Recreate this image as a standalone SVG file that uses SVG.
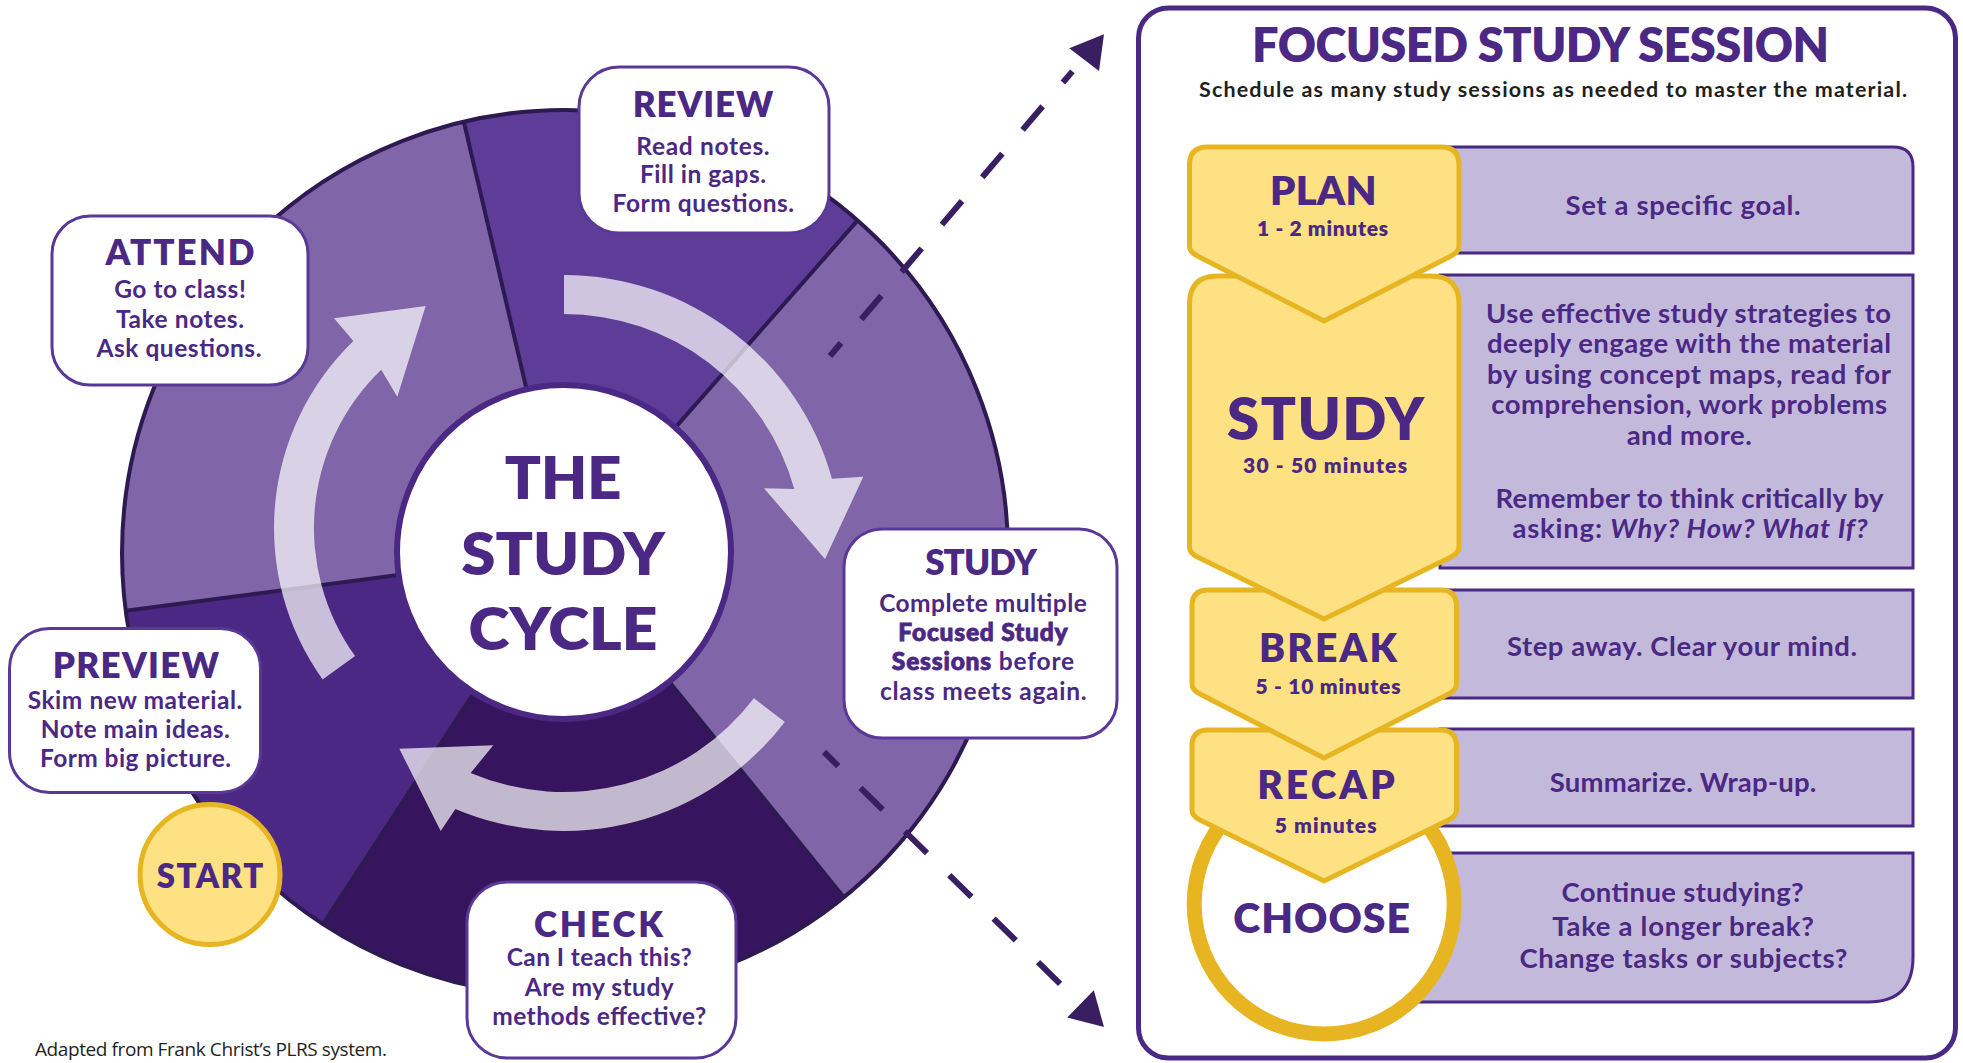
<svg xmlns="http://www.w3.org/2000/svg" width="1963" height="1063" viewBox="0 0 1963 1063">
<defs>
<style>
text{font-family:Lato,"Liberation Sans",sans-serif;text-anchor:middle;fill:#4B2884}
.h{font-weight:800;font-size:35px}
.b{font-weight:700;font-size:24.5px}
.bb{font-weight:900;stroke:#4B2884;stroke-width:0.9px}
.ctr{font-weight:800;font-size:59px}
.ch{font-weight:800}
.min{font-weight:800;font-size:21px}
.rb{font-weight:700;font-size:27.5px}
.box{fill:#fff;stroke:#5A3897;stroke-width:3}
.row{fill:#C3BADB;stroke:#4B2884;stroke-width:3}
.chev{fill:#FDE183;stroke:#E6B521;stroke-width:5;stroke-linejoin:round}
.div{stroke:#2E1A52;stroke-width:4}
.arr{fill:#fff;fill-opacity:0.7}
.dash{stroke:#3A1E62;stroke-width:6;fill:none;stroke-dasharray:31 31.2}
</style>
</defs>
<rect width="1963" height="1063" fill="#fff"/>

<g id="cycle-wheel">
<path d="M565,553 L125.8,610.8 A443,443 0 0 1 463.8,121.7 Z" fill="#8066A9"/>
<path d="M565,553 L463.8,121.7 A443,443 0 0 1 857.6,220.4 Z" fill="#5E3D98"/>
<path d="M565,553 L857.6,220.4 A443,443 0 0 1 843.8,897.3 Z" fill="#8066A9"/>
<path d="M565,553 L843.8,897.3 A443,443 0 0 1 323.1,924.1 Z" fill="#36155E"/>
<path d="M565,553 L323.1,924.1 A443,443 0 0 1 125.8,610.8 Z" fill="#4B2884"/>
<circle cx="565" cy="553" r="443" fill="none" stroke="#2E1A52" stroke-width="4"/>
<line class="div" x1="565" y1="553" x2="125.8" y2="610.8"/>
<line class="div" x1="565" y1="553" x2="463.8" y2="121.7"/>
<line class="div" x1="565" y1="553" x2="857.6" y2="220.4"/>
<line class="div" x1="565" y1="553" x2="843.8" y2="897.3"/>
<line class="div" x1="565" y1="553" x2="323.1" y2="924.1"/>
</g>

<g id="connectors">
<g id="cycle-arrows">
<path class="arr" d="M322.6,679.4 A260,260 0 0 1 353.4,341 L334,318.3 L425.7,306 L397.3,396.7 L381.2,369.7 A220,220 0 0 0 355.1,656.1 Z"/>
<path class="arr" d="M564,275 A278,278 0 0 1 831.9,478.7 L863.3,476.7 L825,559 L764,488.3 L794.3,489.1 A239,239 0 0 0 564,314 Z"/>
<path class="arr" d="M784.8,721.9 A278,278 0 0 1 455.4,808.9 L440.7,831 L399.3,748.7 L493.3,745.3 L470.6,773 A239,239 0 0 0 753.9,698.2 Z"/>
</g>
<line class="dash" x1="830" y1="356" x2="1072.4" y2="71.4" stroke-dashoffset="14"/>
<polygon points="1104,34.3 1069.3,48.3 1099,71" fill="#3A1E62"/>
<line class="dash" x1="824" y1="752" x2="1078" y2="1001.5" stroke-dashoffset="11"/>
<polygon points="1104,1027 1067.2,1017.5 1093.8,990.3" fill="#3A1E62"/>
</g>

<g id="center">
<circle cx="564" cy="552" r="167" fill="#fff" stroke="#4B2884" stroke-width="6"/>
<text class="ctr" x="563" y="499.3" textLength="116.7" lengthAdjust="spacingAndGlyphs">THE</text>
<text class="ctr" x="563" y="575" textLength="203.5" lengthAdjust="spacingAndGlyphs">STUDY</text>
<text class="ctr" x="563" y="649.5" textLength="189" lengthAdjust="spacingAndGlyphs">CYCLE</text>
</g>

<g id="attend">
<rect class="box" x="52" y="216" width="256" height="169" rx="38"/>
<text class="h" x="180" y="265" textLength="149">ATTEND</text>
<text class="b" x="180" y="298.3" textLength="131.7">Go to class!</text>
<text class="b" x="180" y="327.7" textLength="128">Take notes.</text>
<text class="b" x="179" y="356.7" textLength="165">Ask questions.</text>
</g>

<g id="review">
<rect class="box" x="579" y="67" width="250" height="166" rx="40"/>
<text class="h" x="703" y="117.3" textLength="140.6">REVIEW</text>
<text class="b" x="703" y="154.6" textLength="133.3">Read notes.</text>
<text class="b" x="703" y="183" textLength="126">Fill in gaps.</text>
<text class="b" x="703.4" y="212" textLength="181.6">Form questions.</text>
</g>

<g id="study">
<rect class="box" x="844" y="529" width="273" height="209" rx="38"/>
<text class="h" x="981" y="575" textLength="111.7">STUDY</text>
<text class="b" x="983" y="611.7" textLength="207.7">Complete multiple</text>
<text class="b bb" x="983" y="641" textLength="169.3">Focused Study</text>
<text class="b" x="983" y="670.3" textLength="182.3"><tspan class="bb">Sessions</tspan> before</text>
<text class="b" x="983.3" y="700" textLength="206.7">class meets again.</text>
</g>

<g id="check">
<rect class="box" x="467" y="882" width="269" height="176" rx="40"/>
<text class="h" x="598.5" y="936.5" textLength="129">CHECK</text>
<text class="b" x="599.2" y="966" textLength="185">Can I teach this?</text>
<text class="b" x="599.2" y="996" textLength="149">Are my study</text>
<text class="b" x="599.2" y="1025" textLength="214">methods effective?</text>
</g>

<g id="preview">
<rect class="box" x="9.5" y="628.5" width="251" height="164" rx="40"/>
<text class="h" x="135.8" y="678.3" textLength="166.3">PREVIEW</text>
<text class="b" x="135" y="709" textLength="214.7">Skim new material.</text>
<text class="b" x="135.3" y="738.3" textLength="189.3">Note main ideas.</text>
<text class="b" x="135.5" y="767.3" textLength="191">Form big picture.</text>
</g>

<g id="start">
<circle cx="210" cy="874.5" r="70" fill="#FDE183" stroke="#E6B521" stroke-width="5"/>
<text class="ch" x="210" y="888.3" font-size="33" textLength="106.7">START</text>
</g>

<text x="35" y="1056" style="text-anchor:start;font-family:'Open Sans','Liberation Sans',sans-serif;font-size:19px;fill:#231F20" textLength="352">Adapted from Frank Christ’s PLRS system.</text>

<g id="focused-study-session">
<rect x="1138.5" y="8" width="817" height="1050" rx="30" fill="#fff" stroke="#4B2884" stroke-width="5"/>
<text class="ch" x="1540.5" y="62.4" font-size="47" textLength="577">FOCUSED STUDY SESSION</text>
<text x="1553" y="97" style="font-weight:700;font-size:21.5px;fill:#231F20" textLength="708">Schedule as many study sessions as needed to master the material.</text>
</g>

<g id="row-plan">
<path class="row" d="M1440,147 H1893 Q1913,147 1913,167 V253 H1440 Z"/>
<text class="rb" x="1683" y="215" textLength="235">Set a specific goal.</text>
</g>
<g id="row-study">
<rect class="row" x="1440" y="275" width="473" height="293"/>
<text class="rb" x="1688.6" y="322.7" textLength="405">Use effective study strategies to</text>
<text class="rb" x="1689" y="353" textLength="404">deeply engage with the material</text>
<text class="rb" x="1689" y="383.7" textLength="404">by using concept maps, read for</text>
<text class="rb" x="1689.2" y="414" textLength="396">comprehension, work problems</text>
<text class="rb" x="1689.2" y="445.4" textLength="125">and more.</text>
<text class="rb" x="1689.5" y="507.8" textLength="388">Remember to think critically by</text>
<text class="rb" x="1690" y="538.3" textLength="355">asking: <tspan font-style="italic">Why? How? What If?</tspan></text>
</g>
<g id="row-break">
<rect class="row" x="1440" y="590" width="473" height="108"/>
<text class="rb" x="1682" y="656.3" textLength="350">Step away. Clear your mind.</text>
</g>
<g id="row-recap">
<rect class="row" x="1440" y="729" width="473" height="97"/>
<text class="rb" x="1683" y="791.9" textLength="266.7">Summarize. Wrap-up.</text>
</g>
<g id="row-choose">
<path class="row" d="M1410,853 H1913 V957 Q1913,1002 1868,1002 H1410 Z"/>
<text class="rb" x="1682.6" y="901.7" textLength="242.3">Continue studying?</text>
<text class="rb" x="1683.1" y="935.6" textLength="261.5">Take a longer break?</text>
<text class="rb" x="1683.4" y="968.1" textLength="327.8">Change tasks or subjects?</text>
</g>

<g id="step-choose">
<circle cx="1324.2" cy="904" r="130" fill="#fff" stroke="#E6B521" stroke-width="15"/>
<text class="ch" x="1321.7" y="932.7" font-size="41" textLength="176.7">CHOOSE</text>
</g>
<g id="step-recap">
<path class="chev" d="M1192,746 Q1192,730 1208,730 H1440.5 Q1456.5,730 1456.5,746 V810 Q1456.5,816 1448.5,820 L1324,881 L1200,820 Q1192,816 1192,810 Z"/>
<text class="ch" x="1326" y="799.3" font-size="39" textLength="137.7">RECAP</text>
<text class="min" x="1325.7" y="832.7" textLength="101.7">5 minutes</text>
</g>
<g id="step-break">
<path class="chev" d="M1192,606 Q1192,590 1208,590 H1440.5 Q1456.5,590 1456.5,606 V684 Q1456.5,690 1448.5,694 L1324,758 L1200,694 Q1192,690 1192,684 Z"/>
<text class="ch" x="1328" y="661.7" font-size="39" textLength="138">BREAK</text>
<text class="min" x="1328" y="694.3" textLength="145">5 - 10 minutes</text>
</g>
<g id="step-study">
<path class="chev" d="M1189.5,304 Q1189.5,276 1217.5,276 H1431 Q1459,276 1459,304 V547 Q1459,553 1451,557 L1324,619 L1197.5,557 Q1189.5,553 1189.5,547 Z"/>
<text class="ch" x="1325.6" y="440" font-size="58" textLength="197">STUDY</text>
<text class="min" x="1325" y="472.5" textLength="164">30 - 50 minutes</text>
</g>
<g id="step-plan">
<path class="chev" d="M1189.5,165 Q1189.5,147 1207.5,147 H1441 Q1459,147 1459,165 V246 Q1459,252 1451,256 L1324,321 L1197.5,256 Q1189.5,252 1189.5,246 Z"/>
<text class="ch" x="1323.3" y="205" font-size="40" textLength="106.7">PLAN</text>
<text class="min" x="1322.5" y="236" textLength="131">1 - 2 minutes</text>
</g>
</svg>
